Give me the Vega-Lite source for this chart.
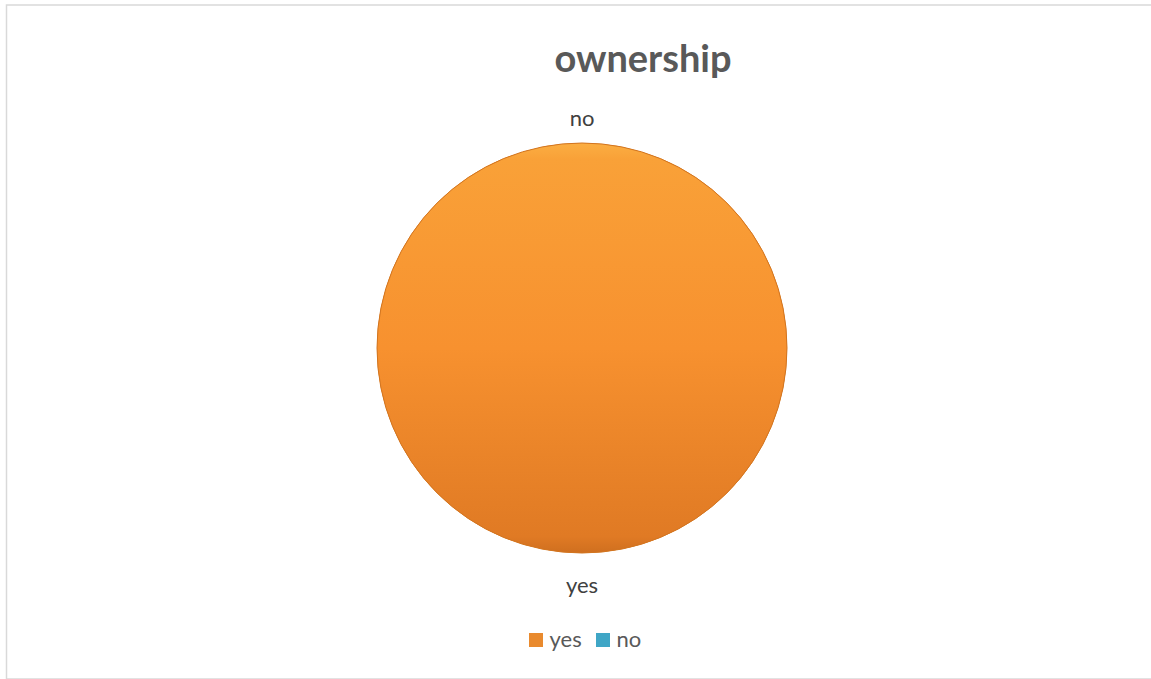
{
  "$schema": "https://vega.github.io/schema/vega-lite/v6.json",
  "autosize": {"type": "none"},
  "padding": {"left": 6.5, "top": 17, "right": -6.5, "bottom": 0},
  "width": 1151,
  "height": 662,
  "background": "white",
  "config": {
    "view": {"stroke": null},
    "font": "Lato"
  },
  "title": {
    "text": "ownership",
    "anchor": "middle",
    "frame": "group",
    "orient": "top",
    "offset": -76,
    "dx": 61,
    "font": "Lato",
    "fontSize": 38,
    "fontWeight": "bold",
    "color": "#595959"
  },
  "data": {
    "values": [
      {"answer": "yes", "count": 100},
      {"answer": "no", "count": 0}
    ]
  },
  "layer": [
    {
      "transform": [{"filter": "datum.answer === 'yes'"}],
      "mark": {
        "type": "rect",
        "filled": false,
        "stroke": "#d9d9d9",
        "strokeWidth": 1.5,
        "yOffset": -12,
        "y2Offset": -2
      },
      "encoding": {}
    },
    {
      "mark": {"type": "arc", "outerRadius": 205},
      "encoding": {
        "theta": {"field": "count", "type": "quantitative", "stack": true},
        "color": {
          "field": "answer",
          "type": "nominal",
          "sort": ["yes", "no"],
          "scale": {"domain": ["yes", "no"], "range": ["#e98a2e", "#3fa6c6"]},
          "legend": {
            "title": null,
            "orient": "none",
            "direction": "horizontal",
            "legendX": 518.5,
            "legendY": 612,
            "padding": 0,
            "symbolType": "square",
            "symbolSize": 196,
            "symbolStrokeWidth": 0,
            "labelFont": "Lato",
            "labelFontSize": 22,
            "labelColor": "#595959",
            "labelOffset": 2.5,
            "columnPadding": 10
          }
        }
      }
    },
    {
      "transform": [{"filter": "datum.count > 0"}],
      "mark": {
        "type": "arc",
        "outerRadius": 205,
        "stroke": "#d27520",
        "strokeWidth": 1,
        "fill": {
          "gradient": "linear",
          "x1": 0, "y1": 0, "x2": 0, "y2": 1,
          "stops": [
            {"offset": 0, "color": "#fbae42"},
            {"offset": 0.04, "color": "#f9a138"},
            {"offset": 0.5, "color": "#f7912f"},
            {"offset": 0.96, "color": "#e07a24"},
            {"offset": 1, "color": "#cf6f1f"}
          ]
        }
      },
      "encoding": {
        "theta": {"field": "count", "type": "quantitative", "stack": true}
      }
    },
    {
      "transform": [{"filter": "datum.answer === 'no'"}],
      "mark": {"type": "text", "radius": 229, "font": "Lato", "fontSize": 22, "color": "#404040", "baseline": "middle"},
      "encoding": {
        "theta": {"field": "count", "type": "quantitative", "stack": true},
        "text": {"field": "answer", "type": "nominal"}
      }
    },
    {
      "transform": [{"filter": "datum.answer === 'yes'"}],
      "mark": {"type": "text", "radius": 238, "font": "Lato", "fontSize": 22, "color": "#404040", "baseline": "middle"},
      "encoding": {
        "theta": {"field": "count", "type": "quantitative", "stack": true},
        "text": {"field": "answer", "type": "nominal"}
      }
    }
  ]
}
